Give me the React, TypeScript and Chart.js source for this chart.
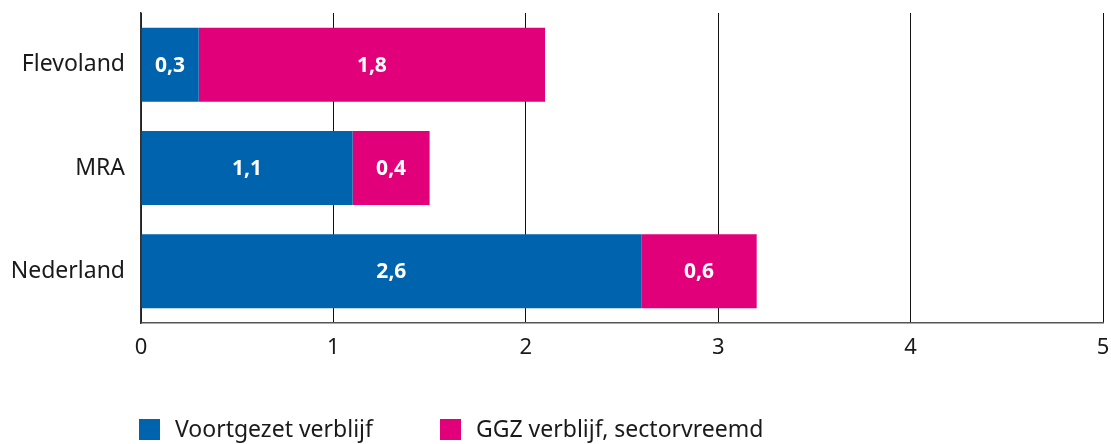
import React, { useEffect, useRef } from "react";
import { Chart, registerables } from "chart.js";

Chart.register(...registerables);

const categories = ["Flevoland", "MRA", "Nederland"];
const voortgezet = [0.3, 1.1, 2.6];
const ggz = [1.8, 0.4, 0.6];
const seriesNames = ["Voortgezet verblijf", "GGZ verblijf, sectorvreemd"];
const seriesColors = ["#0063AD", "#E2007A"];
const xTicks = [0, 1, 2, 3, 4, 5];

const FONT = "'Noto Sans', sans-serif";

const valueLabels = {
  id: "valueLabels",
  afterDatasetsDraw(chart: any) {
    const ctx = chart.ctx;
    ctx.save();
    ctx.fillStyle = "#ffffff";
    ctx.font = `bold 21px ${FONT}`;
    ctx.textAlign = "center";
    ctx.textBaseline = "middle";
    chart.data.datasets.forEach((ds: any, di: number) => {
      const meta = chart.getDatasetMeta(di);
      meta.data.forEach((bar: any, i: number) => {
        const v = ds.data[i];
        const cx = (bar.x + bar.base) / 2;
        ctx.fillText(String(v).replace(".", ","), cx, bar.y + 1);
      });
    });
    ctx.restore();
  },
};

const customLegend = {
  id: "customLegend",
  afterDraw(chart: any) {
    const ctx = chart.ctx;
    ctx.save();
    ctx.font = `23px ${FONT}`;
    ctx.textBaseline = "middle";
    ctx.textAlign = "left";
    const starts = [139, 440];
    chart.data.datasets.forEach((ds: any, i: number) => {
      const x = starts[i];
      const y = 430;
      ctx.fillStyle = ds.backgroundColor;
      ctx.fillRect(x, 419, 21, 21);
      ctx.fillStyle = "#1a1a1a";
      ctx.fillText(ds.label, x + 36, y);
    });
    ctx.restore();
  },
};

export default function App() {
  const ref = useRef<HTMLCanvasElement>(null);
  useEffect(() => {
    document.body.style.margin = "0";
    const chart = new Chart(ref.current!, {
      type: "bar",
      data: {
        labels: categories,
        datasets: [
          { label: seriesNames[0], data: voortgezet, backgroundColor: seriesColors[0] },
          { label: seriesNames[1], data: ggz, backgroundColor: seriesColors[1] },
        ],
      },
      options: {
        indexAxis: "y",
        responsive: false,
        animation: false,
        layout: { padding: { top: 13, right: 8, left: 0, bottom: 0 } },
        datasets: { bar: { categoryPercentage: 1, barPercentage: 0.716 } },
        plugins: { legend: { display: false }, tooltip: { enabled: false } },
        scales: {
          x: {
            stacked: true,
            min: 0,
            max: 5,
            afterBuildTicks: (s: any) => {
              s.ticks = xTicks.map((v) => ({ value: v }));
            },
            afterFit: (s: any) => {
              s.height = 121;
              s.paddingLeft = 0;
              s.paddingRight = 0;
              s.paddingTop = 0;
              s.paddingBottom = 0;
            },
            grid: { color: "#111111", lineWidth: 1, drawTicks: false },
            border: { color: "#555555", width: 1.5 },
            ticks: {
              padding: 12,
              color: "#1a1a1a",
              font: { family: FONT, size: 22 },
              callback: (v: any) => String(v),
            },
          },
          y: {
            stacked: true,
            afterFit: (s: any) => {
              s.width = 141;
              s.paddingLeft = 0;
              s.paddingRight = 0;
              s.paddingTop = 0;
              s.paddingBottom = 0;
            },
            grid: { display: false, drawTicks: false },
            border: { color: "#333333", width: 1.5 },
            ticks: {
              padding: 16,
              color: "#1a1a1a",
              font: { family: FONT, size: 23 },
            },
          },
        },
      },
      plugins: [valueLabels, customLegend],
    });
    return () => chart.destroy();
  }, []);
  return (
    <div style={{ width: 1111, height: 444 }}>
      <canvas ref={ref} width={1111} height={444} />
    </div>
  );
}
